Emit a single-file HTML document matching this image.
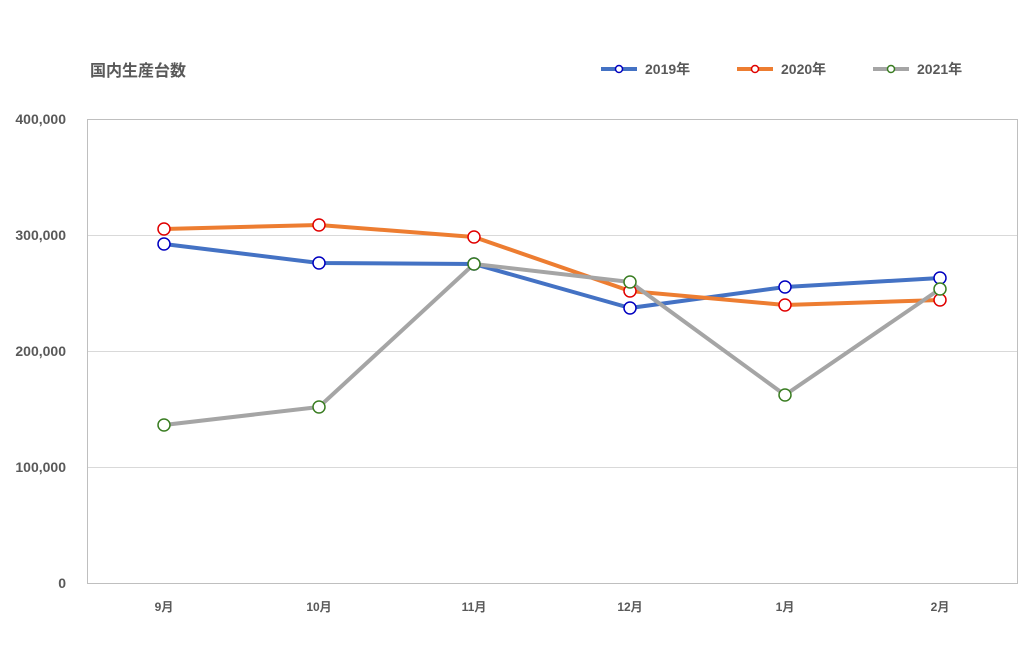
<!DOCTYPE html>
<html><head><meta charset="utf-8"><style>
body{margin:0;background:#fff;}
svg text{font-family:"Liberation Sans","Noto Sans CJK JP",sans-serif;font-weight:bold;fill:#595959;}
</style></head><body>
<svg width="1024" height="645" xmlns="http://www.w3.org/2000/svg">
<rect width="1024" height="645" fill="#fff"/>
<text x="90" y="76" font-size="16">国内生産台数</text>
<g stroke="#d9d9d9" stroke-width="1">
<line x1="87" y1="235.5" x2="1018" y2="235.5"/>
<line x1="87" y1="351.5" x2="1018" y2="351.5"/>
<line x1="87" y1="467.5" x2="1018" y2="467.5"/>
</g>
<rect x="87.5" y="119.5" width="930" height="464" fill="none" stroke="#bfbfbf"/>
<g font-size="14" text-anchor="end">
<text x="66" y="124">400,000</text>
<text x="66" y="240">300,000</text>
<text x="66" y="356">200,000</text>
<text x="66" y="472">100,000</text>
<text x="66" y="588">0</text>
</g>
<g font-size="12" text-anchor="middle">
<text x="164" y="611">9月</text><text x="319" y="611">10月</text><text x="474" y="611">11月</text>
<text x="630" y="611">12月</text><text x="785" y="611">1月</text><text x="940" y="611">2月</text>
</g>
<g fill="none" stroke-width="4" stroke-linejoin="round">
<polyline stroke="#4472c4" points="164,244 319,263 474,264 630,308 785,287 940,278"/>
<polyline stroke="#ed7d31" points="164,229 319,225 474,237 630,291 785,305 940,300"/>
<polyline stroke="#a5a5a5" points="164,425 319,407 474,264 630,282 785,395 940,289"/>
</g>
<g fill="#fff" stroke-width="1.5">
<g stroke="#0000c0"><circle cx="164" cy="244" r="6"/><circle cx="319" cy="263" r="6"/><circle cx="474" cy="264" r="6"/><circle cx="630" cy="308" r="6"/><circle cx="785" cy="287" r="6"/><circle cx="940" cy="278" r="6"/></g>
<g stroke="#e00000"><circle cx="164" cy="229" r="6"/><circle cx="319" cy="225" r="6"/><circle cx="474" cy="237" r="6"/><circle cx="630" cy="291" r="6"/><circle cx="785" cy="305" r="6"/><circle cx="940" cy="300" r="6"/></g>
<g stroke="#3a7d22"><circle cx="164" cy="425" r="6"/><circle cx="319" cy="407" r="6"/><circle cx="474" cy="264" r="6"/><circle cx="630" cy="282" r="6"/><circle cx="785" cy="395" r="6"/><circle cx="940" cy="289" r="6"/></g>
</g>
<g stroke-width="4">
<line x1="601" y1="69" x2="637" y2="69" stroke="#4472c4"/>
<line x1="737" y1="69" x2="773" y2="69" stroke="#ed7d31"/>
<line x1="873" y1="69" x2="909" y2="69" stroke="#a5a5a5"/>
</g>
<g fill="#fff" stroke-width="1.5">
<circle cx="619" cy="69" r="3.5" stroke="#0000c0"/>
<circle cx="755" cy="69" r="3.5" stroke="#e00000"/>
<circle cx="891" cy="69" r="3.5" stroke="#3a7d22"/>
</g>
<g font-size="14">
<text x="645" y="74">2019年</text>
<text x="781" y="74">2020年</text>
<text x="917" y="74">2021年</text>
</g>
</svg>
</body></html>
